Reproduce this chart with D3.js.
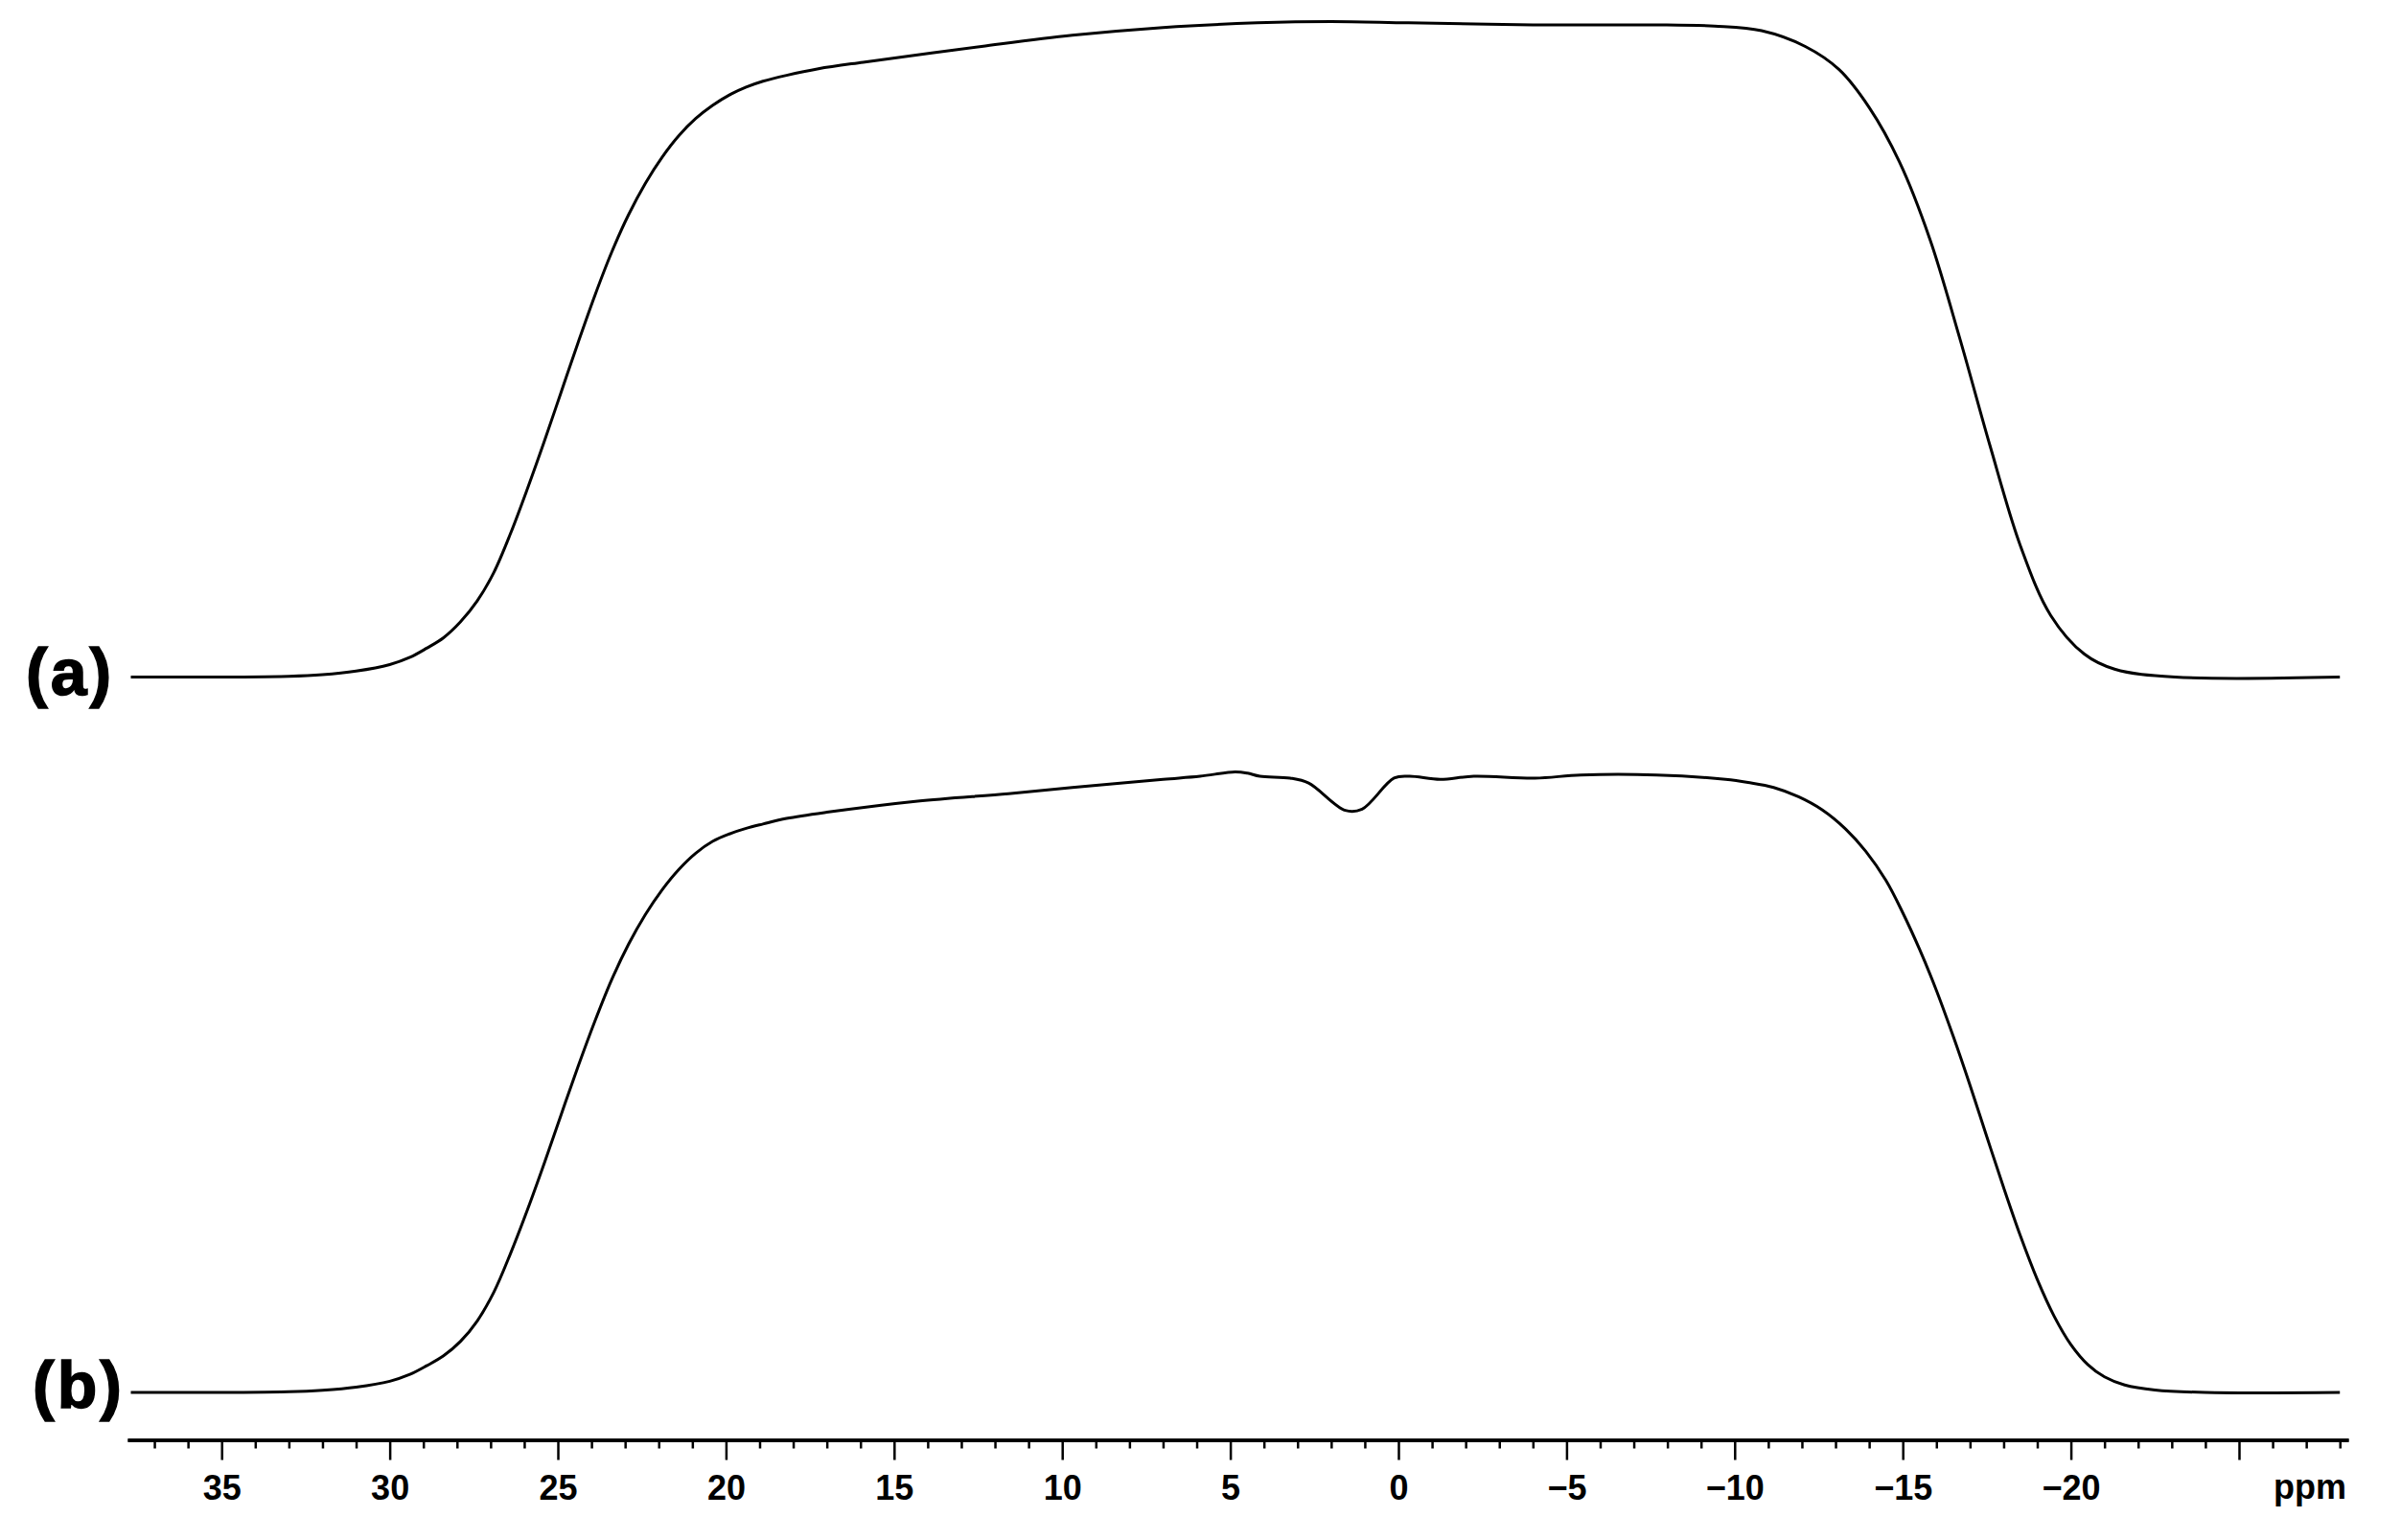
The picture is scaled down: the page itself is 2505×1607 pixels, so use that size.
<!DOCTYPE html>
<html>
<head>
<meta charset="utf-8">
<script src="https://cdn.jsdelivr.net/npm/d3@7"></script>
<style>
  body { margin: 0; background: #fff; }
  #canvas { width: 2505px; height: 1607px; }
  .lbl { font-family: "Liberation Sans", Arial, sans-serif; font-weight: bold; }
</style>
</head>
<body>
<div id="canvas" class="canvas"></div>
<script>
// spectrum (a): chemical shift (ppm) and relative intensity
var ppmA = [37.7, 35.0, 33.0, 32.0, 31.0, 30.0, 29.4, 28.9, 28.4, 27.9, 27.4, 26.9, 26.4, 25.9, 25.4, 24.9, 24.4, 23.9, 23.4, 22.9, 22.4, 21.9, 21.4, 20.9, 20.4, 19.9, 19.4, 18.9, 18.2, 17.25, 15.92, 12.4, 9.7, 7.0, 4.2, 2.0, -0.3, -4.0, -7.6, -9.4, -10.8, -12.1, -13.1, -14.0, -14.9, -15.8, -16.7, -17.6, -18.5, -19.4, -20.4, -21.3, -23.1, -28.0];
var intA = [0, 0, 0.1, 0.35, 0.9, 1.9, 3.0, 4.4, 6.0, 8.4, 11.6, 16.0, 22.0, 28.8, 36.0, 43.5, 51.0, 58.2, 64.8, 70.5, 75.3, 79.3, 82.6, 85.2, 87.2, 88.8, 90.0, 90.9, 91.8, 92.8, 93.8, 96.2, 97.9, 99.1, 99.8, 100, 99.8, 99.5, 99.5, 99.3, 98.6, 96.2, 92.7, 86.9, 78.6, 66.9, 51.6, 35.2, 20.0, 9.4, 3.5, 1.2, 0, 0];

// spectrum (b)
var ppmB = [37.7, 35.0, 33.0, 32.0, 31.0, 30.0, 29.4, 28.9, 28.4, 27.9, 27.4, 26.9, 26.4, 25.9, 25.4, 24.9, 24.4, 23.9, 23.4, 22.9, 22.4, 21.9, 21.4, 20.9, 20.4, 19.9, 19.4, 18.9, 18.2, 17.0, 14.3, 11.6, 9.7, 7.0, 5.9, 4.86, 4.49, 4.12, 3.22, 2.67, 1.58, 1.08, 0.13, -0.33, -1.24, -2.24, -4.06, -5.42, -7.68, -9.73, -10.4, -11.16, -11.9, -12.6, -13.3, -13.9, -14.5, -15.0, -15.5, -16.0, -16.5, -17.0, -17.5, -18.0, -18.5, -19.0, -19.5, -20.0, -20.5, -21.0, -21.6, -22.5, -24.0, -28.0];
var intB = [0, 0, 0.1, 0.35, 0.85, 1.8, 2.9, 4.3, 5.9, 8.2, 11.5, 16.2, 22.5, 29.5, 37.0, 44.8, 52.5, 59.8, 66.5, 72.2, 77.0, 81.0, 84.3, 86.9, 88.8, 90.0, 90.9, 91.6, 92.5, 93.5, 95.3, 96.5, 97.5, 98.8, 99.3, 100, 99.8, 99.3, 99.0, 98.2, 93.8, 94.0, 99.0, 99.3, 98.8, 99.3, 99.0, 99.5, 99.5, 98.8, 98.3, 97.5, 96.0, 93.9, 90.8, 87.2, 82.5, 77.3, 71.4, 64.8, 57.4, 49.5, 41.2, 33.0, 25.2, 18.2, 12.3, 7.7, 4.5, 2.5, 1.2, 0.4, 0, 0];

var majorTicks = [35, 30, 25, 20, 15, 10, 5, 0, -5, -10, -15, -20, -25];
var tickLabels = ['35', '30', '25', '20', '15', '10', '5', '0', '\u22125', '\u221210', '\u221215', '\u221220', ''];
var panelLabels = ['(a)', '(b)'];

var W = 2505, H = 1607;

var svg = d3.select('.canvas')
    .append('svg')
    .attr('width', W)
    .attr('height', H);

var x = d3.scaleLinear().domain([37.8, -28.25]).range([133, 2450]);
var yA = d3.scaleLinear().domain([0, 100]).range([706.5, 22.5]);
var yB = d3.scaleLinear().domain([0, 100]).range([1453, 805.5]);

function series(p, v){
    return p.map(function(d, i){ return {ppm: d, val: v[i]}; });
}

function drawSpectrum(data, y){
    var line = d3.line()
        .x(function(d){ return x(d.ppm); })
        .y(function(d){ return y(d.val); })
        .curve(d3.curveCatmullRom.alpha(0.5));
    svg.append('path')
        .datum(data)
        .attr('d', line)
        .style('fill', 'none')
        .style('stroke', '#000')
        .style('stroke-width', 3)
        .style('stroke-linejoin', 'round');
}

drawSpectrum(series(ppmA, intA), yA);
drawSpectrum(series(ppmB, intB), yB);

//panel labels
svg.append('text').attr('class', 'lbl')
    .attr('x', 27).attr('y', 725)
    .style('font-size', '68px')
    .style('letter-spacing', '3px')
    .style('stroke', '#000').style('stroke-width', 1.5)
    .text(panelLabels[0]);
svg.append('text').attr('class', 'lbl')
    .attr('x', 34).attr('y', 1469)
    .style('font-size', '68px')
    .style('letter-spacing', '3px')
    .style('stroke', '#000').style('stroke-width', 1.5)
    .text(panelLabels[1]);

//axis: minor ticks every 1 ppm, major every 5 ppm
var minor = d3.range(37, -29, -1).filter(function(d){ return d % 5 !== 0; });

var axisY = 1502.5;
svg.append('g')
    .attr('transform', 'translate(0,' + axisY + ')')
    .call(d3.axisBottom(x).tickValues(minor).tickSize(9).tickSizeOuter(0).tickFormat(''));
var gMajor = svg.append('g')
    .attr('transform', 'translate(0,' + axisY + ')')
    .call(d3.axisBottom(x).tickValues(majorTicks).tickSize(21).tickSizeOuter(0)
        .tickFormat(function(d, i){ return tickLabels[i]; }));

svg.selectAll('.domain').style('stroke', '#000').style('stroke-width', 3.5);
svg.selectAll('.tick line').style('stroke', '#000').style('stroke-width', 2.5);
gMajor.selectAll('.tick text')
    .attr('class', 'lbl')
    .attr('dy', null)
    .attr('y', 62)
    .style('font-size', '36px')
    .style('fill', '#000');

svg.append('text').attr('class', 'lbl')
    .attr('x', 2448).attr('y', 1564)
    .attr('text-anchor', 'end')
    .style('font-size', '36px')
    .text('ppm');
</script>
</body>
</html>
